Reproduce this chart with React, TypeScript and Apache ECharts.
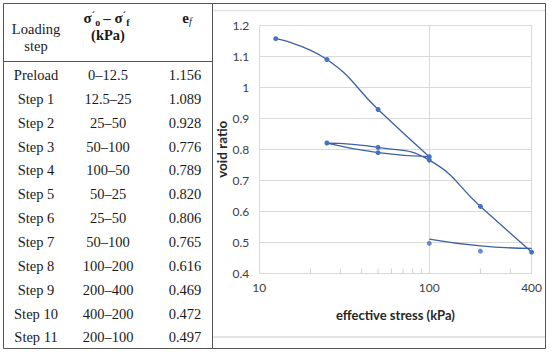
import React, { useEffect, useRef } from "react";
import * as echarts from "echarts";

// ---- Table data ----
const stepNames = ["Preload", "Step 1", "Step 2", "Step 3", "Step 4", "Step 5", "Step 6", "Step 7", "Step 8", "Step 9", "Step 10", "Step 11"];
const stressRanges = ["0–12.5", "12.5–25", "25–50", "50–100", "100–50", "50–25", "25–50", "50–100", "100–200", "200–400", "400–200", "200–100"];
const finalStress = [12.5, 25, 50, 100, 50, 25, 50, 100, 200, 400, 200, 100];
const voidRatios = [1.156, 1.089, 0.928, 0.776, 0.789, 0.82, 0.806, 0.765, 0.616, 0.469, 0.472, 0.497];

// ---- Chart data ----
const loadingCount = 10; // preload .. step 9 drawn as one smoothed line
const trendStress = [100, 200, 400];
const trendVoid = [0.511, 0.489, 0.481];
const xTickLabels = [10, 100, 400];
const minorTicks = [20, 30, 40, 50, 60, 70, 80, 90, 200, 300];

const SERIF = "'Liberation Serif', 'Times New Roman', serif";
const SANS = "Lato, 'Open Sans', sans-serif";

function buildGraphic() {
  const g: any[] = [];
  const border = "#555";
  const line = (x1: number, y1: number, x2: number, y2: number, stroke = border, lw = 1) => ({
    type: "line",
    silent: true,
    shape: { x1, y1, x2, y2 },
    style: { stroke, lineWidth: lw },
  });
  // outer frame and separators
  g.push(line(3.5, 3.5, 545.5, 3.5));
  g.push(line(3.5, 348.5, 545.5, 348.5));
  g.push(line(3.5, 3.5, 3.5, 348.5));
  g.push(line(545.5, 3.5, 545.5, 348.5));
  g.push(line(212.5, 3.5, 212.5, 348.5));
  g.push(line(3.5, 61.5, 212.5, 61.5));
  // chart-area light lines
  g.push(line(213, 10.5, 545, 10.5, "#e3e3e3", 1.5));
  g.push(line(213, 337, 545, 337, "#e3e3e3", 2));

  const txt = (x: number, y: number, text: string, extra: any = {}) => ({
    type: "text",
    silent: true,
    x,
    y,
    style: {
      text,
      font: `14.5px ${SERIF}`,
      fill: "#1a1a1a",
      align: "center",
      verticalAlign: "middle",
      textAlign: "center",
      textVerticalAlign: "middle",
      ...extra,
    },
  });

  // header
  g.push(txt(36, 29, "Loading"));
  g.push(txt(36, 46, "step"));
  g.push(
    txt(108, 18, "{s|σ}{p|´}{b|o}{s|– σ}{p|´}{b|f}", {
      rich: {
        s: { fontFamily: SERIF, fontSize: 15, fontWeight: "bold", fill: "#1a1a1a", lineHeight: 18 },
        p: { fontFamily: SERIF, fontSize: 11, fontWeight: "bold", fill: "#1a1a1a", lineHeight: 10, verticalAlign: "top" },
        b: { fontFamily: SERIF, fontSize: 10, fontWeight: "bold", fill: "#1a1a1a", lineHeight: 10, verticalAlign: "bottom", padding: [0, 3, 0, 0] },
      },
    })
  );
  g.push(txt(108, 35, "(kPa)", { font: `bold 14.5px ${SERIF}` }));
  g.push(
    txt(187, 18, "{e|e}{f|f}", {
      rich: {
        e: { fontFamily: SERIF, fontSize: 15, fontWeight: "bold", fill: "#1a1a1a", lineHeight: 16 },
        f: { fontFamily: SERIF, fontSize: 10, fontStyle: "italic", fill: "#1a1a1a", lineHeight: 10, verticalAlign: "bottom" },
      },
    })
  );

  // body rows
  stepNames.forEach((name, i) => {
    const y = 75 + 23.85 * i;
    g.push(txt(36, y, name));
    g.push(txt(108, y, stressRanges[i]));
    g.push(txt(185, y, voidRatios[i].toFixed(3)));
  });
  return g;
}

export default function App() {
  const ref = useRef<HTMLDivElement>(null);
  useEffect(() => {
    if (!ref.current) return;
    const chart = echarts.init(ref.current, null, { renderer: "svg" });
    const mainCurve = finalStress.slice(0, loadingCount).map((s, i) => [s, voidRatios[i]]);
    const unloadPts = finalStress.slice(loadingCount).map((s, i) => [s, voidRatios[loadingCount + i]]);
    const trend = trendStress.map((s, i) => [s, trendVoid[i]]);
    const lineColor = "#3d5fa3";
    const markColor = "#4472C4";
    chart.setOption({
      animation: false,
      backgroundColor: "#fff",
      textStyle: { fontFamily: SANS },
      grid: { left: 259.3, top: 25, width: 272.3, height: 248.5, containLabel: false, outerBoundsMode: "none" },
      xAxis: {
        type: "log",
        logBase: 10,
        min: 10,
        max: 400,
        axisLine: { show: true, lineStyle: { color: "#d9d9d9", width: 1 } },
        axisTick: { show: false },
        splitLine: { show: true, lineStyle: { color: "#d9d9d9", width: 1 } },
        axisLabel: { customValues: xTickLabels, color: "#404040", fontSize: 12, fontFamily: SANS, margin: 8 },
        name: "effective stress (kPa)",
        nameLocation: "middle",
        nameGap: 35,
        nameTextStyle: { fontWeight: "bold", fontSize: 13, color: "#262626", fontFamily: SANS },
      },
      yAxis: {
        type: "value",
        min: 0.4,
        max: 1.2,
        interval: 0.1,
        axisLine: { show: false },
        axisTick: { show: false },
        splitLine: { show: true, lineStyle: { color: "#d9d9d9", width: 1 } },
        axisLabel: { color: "#404040", fontSize: 12, fontFamily: SANS, margin: 10 },
        name: "void ratio",
        nameLocation: "middle",
        nameGap: 29,
        nameTextStyle: { fontWeight: "bold", fontSize: 13.5, color: "#262626", fontFamily: SANS },
      },
      series: [
        {
          type: "scatter",
          data: minorTicks.map((v) => [v, 0.4]),
          symbol: "rect",
          symbolSize: [1, 5],
          symbolOffset: [0, -2.5],
          itemStyle: { color: "#c8c8c8" },
          silent: true,
          z: 1,
        },
        {
          type: "line",
          data: mainCurve,
          smooth: 0.5,
          symbol: "circle",
          symbolSize: 5,
          showSymbol: true,
          clip: false,
          lineStyle: { color: lineColor, width: 1.3 },
          itemStyle: { color: markColor, borderWidth: 0 },
          z: 3,
        },
        {
          type: "line",
          data: trend,
          smooth: 0.5,
          symbol: "none",
          clip: false,
          lineStyle: { color: lineColor, width: 1.3 },
          z: 3,
        },
        {
          type: "scatter",
          data: unloadPts,
          symbol: "circle",
          symbolSize: 5,
          clip: false,
          itemStyle: { color: markColor },
          z: 4,
        },
      ],
      graphic: buildGraphic(),
    });
    return () => chart.dispose();
  }, []);
  return (
    <div
      ref={ref}
      style={{ position: "absolute", left: 0, top: 0, width: 550, height: 353, background: "#fff" }}
    />
  );
}
